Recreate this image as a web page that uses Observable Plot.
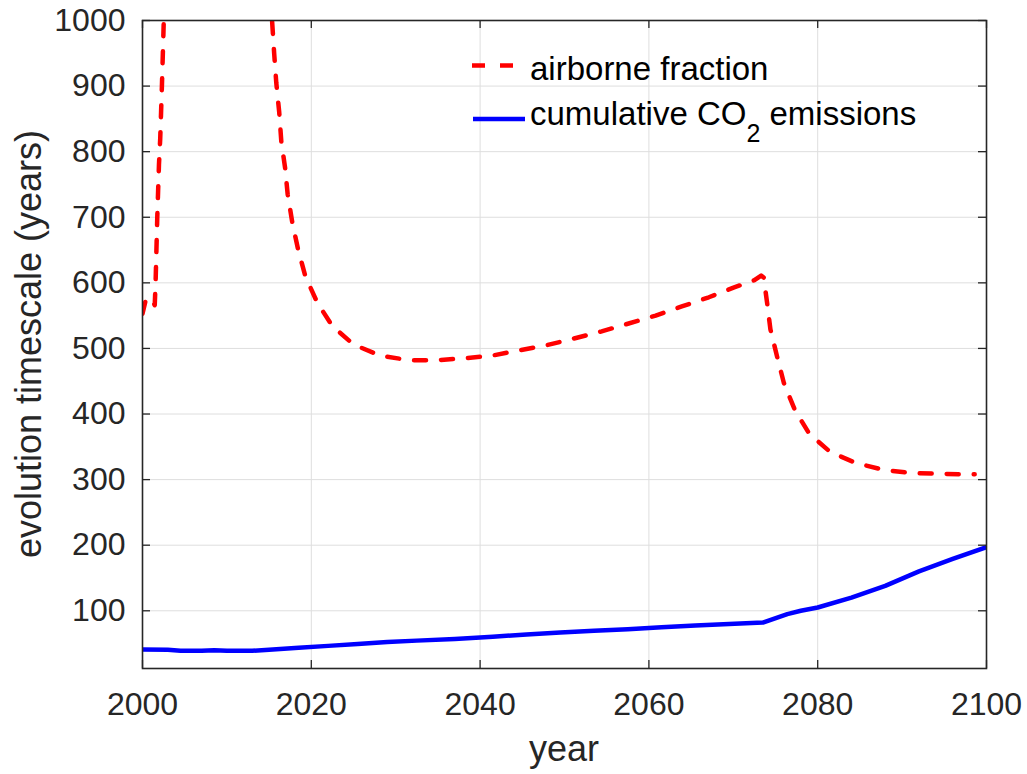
<!DOCTYPE html>
<html>
<head>
<meta charset="utf-8">
<script src="https://cdn.jsdelivr.net/npm/d3@7"></script>
<script src="https://cdn.jsdelivr.net/npm/@observablehq/plot@0.6"></script>
<style>
  html, body { margin: 0; padding: 0; background: #fff; }
  #chart { width: 1027px; height: 774px; }
</style>
</head>
<body>
<div id="chart"></div>
<script>
// Tick values
const xTicks = [2000, 2020, 2040, 2060, 2080, 2100];
const yTicks = [100, 200, 300, 400, 500, 600, 700, 800, 900, 1000];

// Evolution timescale of the airborne fraction (years); null = off the chart (gap)
const afYears = [2000, 2000.35, 2000.75, 2001.2, 2001.45, 2001.55, 2001.65, 2001.75, 2001.85, 2001.95,
  2002.1, 2002.2, 2002.3, 2002.4, 2002.5, 2002.6, 2002.8, 2009,
  2015.0, 2015.35, 2015.6, 2015.85, 2016.2, 2016.45, 2016.9, 2017.2, 2017.75, 2018.45, 2019.3,
  2020.7, 2022.5, 2025.0, 2028.2, 2031.6, 2034.9, 2038.2, 2041.4, 2044.6, 2047.9, 2051.1,
  2054.4, 2057.6, 2060.8, 2063.9, 2067.1, 2070.1, 2072.5, 2073.3, 2073.6, 2074.0, 2074.4,
  2075.2, 2076.0, 2077.3, 2079.0, 2081.5, 2084.6, 2087.8, 2091.0, 2094.4, 2097.7, 2098.6];
const afValues = [553, 572, 578, 572, 566, 600, 650, 700, 740, 780,
  820, 860, 900, 945, 990, 1040, 1150, null,
  1080, 1000, 950, 905, 860, 815, 775, 735, 692, 650, 610,
  570, 534, 506, 489, 482, 482, 485, 489, 497, 505, 515,
  526, 538, 550, 564, 578, 593, 604, 611, 608, 570, 529,
  487, 447, 406, 370, 342, 325, 315, 310, 309, 308, 308];

// Evolution timescale of cumulative CO2 emissions (years)
const co2Years = [2000, 2003, 2004.5, 2007, 2008.5, 2010, 2013, 2015, 2018.5, 2022, 2025.5, 2029,
  2032.5, 2037, 2041.5, 2045.5, 2049.5, 2053.5, 2057.5, 2061.5, 2065.5, 2069.5, 2073.5,
  2076.4, 2078, 2080, 2084, 2088, 2092, 2096, 2100];
const co2Values = [41, 40.5, 39, 39, 40, 39, 39, 40.5, 43.5, 46.5, 49.5, 52.5,
  54.5, 57, 60.5, 64, 67, 69.5, 72, 75, 77.7, 79.7, 82,
  95, 100, 105, 120, 138, 160, 179, 197];

const seriesLabels = ["airborne fraction", "cumulative CO", "2", " emissions"];
const xTitle = "year";
const yTitle = "evolution timescale (years)";

const W = 1027, H = 774;
const mL = 142, mR = 41, mT = 20, mB = 106;
const frameW = W - mL - mR, frameH = H - mT - mB;
const tickLen = 8;
const ink = "#262626";
const gridColor = "#dedede";
const font = "'Liberation Sans', Arial, Helvetica, sans-serif";

const af = afYears.map((year, i) => ({year, value: afValues[i]}));
const co2 = co2Years.map((year, i) => ({year, value: co2Values[i]}));

const chart = Plot.plot({
  width: W,
  height: H,
  marginLeft: mL,
  marginRight: mR,
  marginTop: mT,
  marginBottom: mB,
  style: {fontFamily: font, color: ink, background: "#fff"},
  x: {domain: [2000, 2100]},
  y: {domain: [12, 1000]},
  marks: [
    Plot.gridX(xTicks, {stroke: gridColor, strokeOpacity: 1, strokeWidth: 1}),
    Plot.gridY(yTicks, {stroke: gridColor, strokeOpacity: 1, strokeWidth: 1}),
    Plot.line(co2, {x: "year", y: "value", stroke: "#0000ff", strokeWidth: 4.5, clip: true}),
    Plot.line(af, {x: "year", y: "value", stroke: "#ff0000", strokeWidth: 4.5,
      strokeDasharray: "12,15", clip: true}),
    // inward tick marks on all four sides of the box
    Plot.tickX(xTicks, {x: d => d, stroke: ink, strokeWidth: 1.3, insetTop: frameH - tickLen}),
    Plot.tickX(xTicks, {x: d => d, stroke: ink, strokeWidth: 1.3, insetBottom: frameH - tickLen}),
    Plot.tickY(yTicks, {y: d => d, stroke: ink, strokeWidth: 1.3, insetRight: frameW - tickLen}),
    Plot.tickY(yTicks, {y: d => d, stroke: ink, strokeWidth: 1.3, insetLeft: frameW - tickLen}),
    Plot.frame({stroke: ink, strokeWidth: 1.6}),
    Plot.axisX(xTicks, {tickSize: 0, tickPadding: 24, fontSize: 32, tickFormat: d => String(d), label: null}),
    Plot.axisY(yTicks, {tickSize: 0, tickPadding: 17, fontSize: 32, tickFormat: d => String(d), label: null})
  ]
});

document.getElementById("chart").appendChild(chart);

const svg = d3.select(chart);

// axis titles
svg.append("text")
  .attr("transform", `translate(41,${mT + frameH / 2}) rotate(-90)`)
  .attr("text-anchor", "middle")
  .attr("font-family", font)
  .attr("font-size", 36)
  .attr("fill", ink)
  .text(yTitle);

svg.append("text")
  .attr("x", mL + frameW / 2)
  .attr("y", 761)
  .attr("text-anchor", "middle")
  .attr("font-family", font)
  .attr("font-size", 36)
  .attr("fill", ink)
  .text(xTitle);

// legend (no box)
const legend = svg.append("g")
  .attr("font-family", font)
  .attr("font-size", 33)
  .attr("text-anchor", "start")
  .attr("fill", "#000");
legend.append("line")
  .attr("x1", 472).attr("x2", 513).attr("y1", 65.5).attr("y2", 65.5)
  .attr("stroke", "#ff0000").attr("stroke-width", 4.5).attr("stroke-dasharray", "13,15");
legend.append("text").attr("x", 530).attr("y", 80).attr("text-anchor", "start").text(seriesLabels[0]);
legend.append("line")
  .attr("x1", 473).attr("x2", 525).attr("y1", 119).attr("y2", 119)
  .attr("stroke", "#0000ff").attr("stroke-width", 4.5);
const t2 = legend.append("text").attr("x", 530).attr("y", 125).attr("text-anchor", "start");
t2.append("tspan").text(seriesLabels[1]);
t2.append("tspan").attr("dy", 17).attr("font-size", 25).text(seriesLabels[2]);
t2.append("tspan").attr("dy", -17).text(seriesLabels[3]);
</script>
</body>
</html>
